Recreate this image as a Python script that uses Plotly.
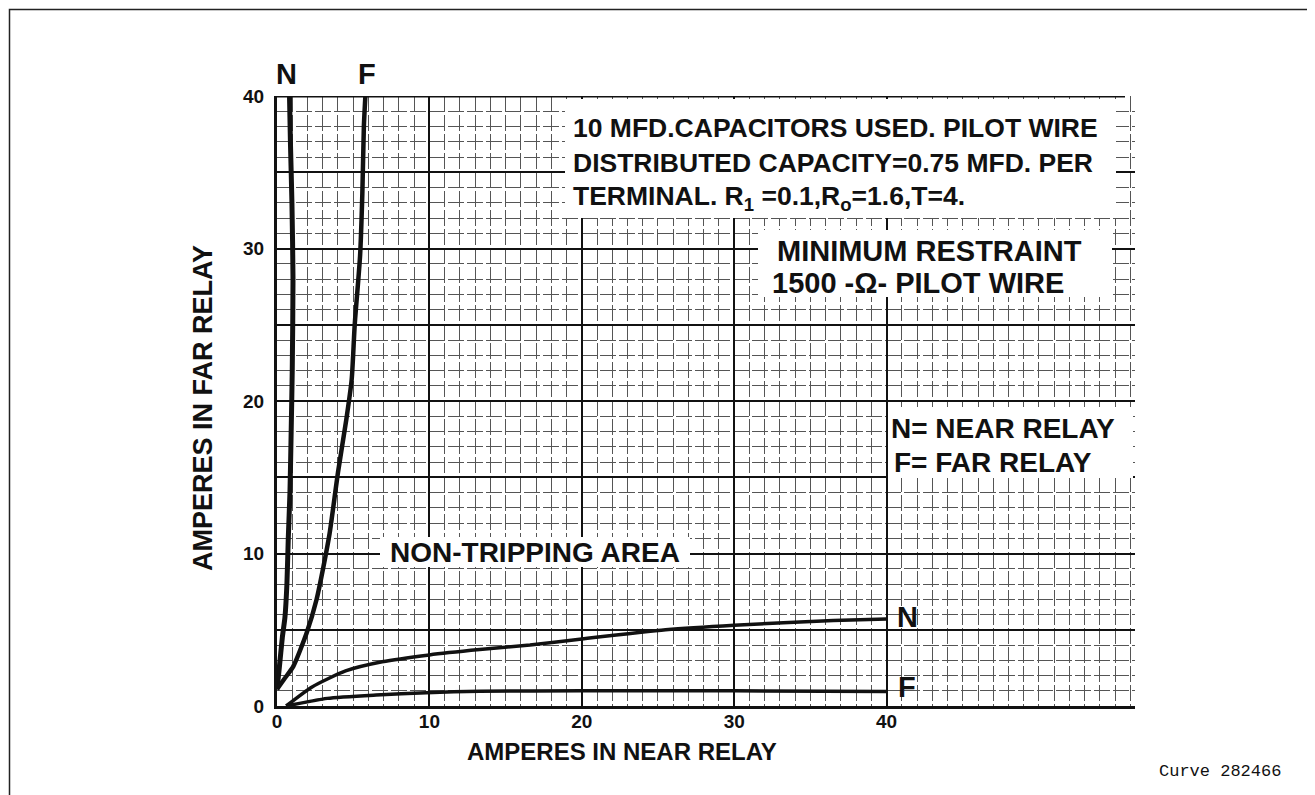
import plotly.graph_objects as go

# ---------------- data ----------------
near_steep_x = [0.0, 0.15, 0.35, 0.52, 0.65, 0.74, 0.85, 0.93, 1.0, 1.05, 0.98, 0.88, 0.82]
near_steep_y = [1.1, 2.5, 4.5, 5.8, 8.0, 11.0, 14.0, 18.0, 22.0, 28.0, 33.0, 37.0, 40.0]

far_steep_x = [0.0, 0.5, 1.07, 1.95, 2.6, 3.04, 3.45, 4.0, 4.55, 4.9, 5.1, 5.45, 5.6, 5.7, 5.8]
far_steep_y = [1.1, 1.8, 2.6, 4.8, 7.0, 9.1, 11.3, 15.3, 18.8, 21.4, 25.0, 29.5, 33.6, 38.0, 40.0]

near_flat_x = [0.6, 2.3, 4.5, 6.9, 10.0, 13.3, 16.6, 20.0, 25.5, 30.0, 36.5, 40.0]
near_flat_y = [0.0, 1.25, 2.3, 2.9, 3.35, 3.7, 4.0, 4.4, 5.0, 5.3, 5.6, 5.7]

far_flat_x = [0.6, 3.3, 6.5, 9.8, 13.3, 20.0, 30.0, 40.0]
far_flat_y = [0.0, 0.5, 0.72, 0.87, 0.97, 1.0, 1.0, 0.95]

x_tick_vals = [0, 10, 20, 30, 40]
x_tick_text = ["0", "10", "20", "30", "40"]
y_tick_vals = [0, 10, 20, 30, 40]
y_tick_text = ["0", "10", "20", "30", "40"]

x_title = "AMPERES IN NEAR RELAY"
y_title = "AMPERES IN FAR RELAY"
note_lines = ["10 MFD.CAPACITORS USED. PILOT WIRE",
              "DISTRIBUTED CAPACITY=0.75 MFD. PER",
              "TERMINAL. R<sub>1</sub> =0.1,R<sub>o</sub>=1.6,T=4."]
restraint_lines = ["MINIMUM RESTRAINT", "1500 -Ω- PILOT WIRE"]
legend_lines = ["N= NEAR RELAY", "F= FAR RELAY"]
area_label = "NON-TRIPPING AREA"
curve_id = "Curve 282466"

# ---------------- geometry (page pixels; page body has an 8px margin) ----------------
OFF = 8
W, H = 1315 - OFF, 795 - OFF
PL, PR, PT, PB = 277, 1135, 96, 706          # plot area edges in page pixels
L, T = PL - OFF, PT - OFF
R, B = W - (PR - OFF), H - (PB - OFF)
XMAX, YMAX = 56.3, 40.0
pw, ph = PR - PL, PB - PT


def dx(px):
    return (px - PL) / pw * XMAX


def dy(py):
    return (PB - py) / ph * YMAX


def paper_x(px):
    return (px - PL) / pw


def paper_y(py):
    return (PB - py) / ph


FONT = "Liberation Sans"
INK = "#111111"

fig = go.Figure()


def curve(xs, ys, width):
    return go.Scatter(x=xs, y=ys, mode="lines",
                      line=dict(color=INK, width=width, shape="spline", smoothing=0.6),
                      hoverinfo="skip", showlegend=False)


fig.add_trace(curve(near_steep_x, near_steep_y, 5))
fig.add_trace(curve(far_steep_x, far_steep_y, 4.5))
fig.add_trace(curve(near_flat_x, near_flat_y, 3.5))
fig.add_trace(curve(far_flat_x, far_flat_y, 3.5))
# overlay axis carrying the heavier 5-unit horizontal rules
fig.add_trace(go.Scatter(x=[0], y=[0], yaxis="y2", mode="markers", marker=dict(opacity=0),
                         hoverinfo="skip", showlegend=False))

tick_font = dict(family=FONT, size=19, color=INK, weight="bold")
minor_grid = dict(dtick=1, showgrid=True, gridcolor="#555555", gridwidth=1, griddash="16px,3px")

fig.update_layout(
    width=W, height=H,
    margin=dict(l=L, r=R, t=T, b=B, pad=0),
    paper_bgcolor="white", plot_bgcolor="white",
    xaxis=dict(range=[0, XMAX], tickvals=x_tick_vals, ticktext=x_tick_text,
               showgrid=True, gridcolor=INK, gridwidth=2, minor=minor_grid,
               showline=True, linecolor=INK, linewidth=3,
               ticks="", tickfont=tick_font, zeroline=False, ticklabelstandoff=-4),
    yaxis=dict(range=[0, YMAX], tickvals=y_tick_vals, ticktext=y_tick_text,
               showgrid=True, gridcolor=INK, gridwidth=2, minor=minor_grid,
               showline=True, linecolor=INK, linewidth=3,
               ticks="", tickfont=tick_font, zeroline=False, ticklabelstandoff=6),
    yaxis2=dict(range=[0, YMAX], overlaying="y", dtick=5, showgrid=True, gridcolor=INK,
                gridwidth=2, showticklabels=False, zeroline=False, showline=False),
    showlegend=False,
)

shapes = []
# top border of the grid
shapes.append(dict(type="line", xref="x", yref="y", x0=0, x1=dx(1125), y0=YMAX, y1=YMAX,
                   line=dict(color=INK, width=3), layer="above"))
# white label boxes covering the grid
for (x0, x1, y0, y1) in [(565, 1116, 99, 218), (758, 1112, 230, 297),
                         (888, 1133, 407, 478), (380, 690, 537, 567)]:
    shapes.append(dict(type="rect", xref="x", yref="y", x0=dx(x0), x1=dx(x1), y0=dy(y1), y1=dy(y0),
                       fillcolor="white", line=dict(width=0), layer="between"))
# outer page frame (left and top edges visible, as far into the page corner as the canvas allows)
shapes.append(dict(type="rect", xref="paper", yref="paper", x0=paper_x(OFF + 1.5), x1=paper_x(1340),
                   y0=paper_y(820), y1=paper_y(OFF + 1.5), line=dict(color="#222222", width=1.5),
                   fillcolor="rgba(0,0,0,0)", layer="above"))
fig.update_layout(shapes=shapes)

ann = []


def font(size, family=FONT, bold=True):
    d = dict(family=family, size=size, color=INK)
    if bold:
        d["weight"] = "bold"
    return d


def add_text(text, px, py, fnt, xanchor="left", angle=0):
    ann.append(dict(text=text, x=paper_x(px), y=paper_y(py), xref="paper", yref="paper",
                    xanchor=xanchor, yanchor="middle", showarrow=False, font=fnt, textangle=angle))


for i, line in enumerate(note_lines):
    add_text(line, 571, 128 + 35 * i, font(26.5))
for i, line in enumerate(restraint_lines):
    add_text(line, 775 if i == 0 else 770, 251 + 32 * i, font(29))
for i, line in enumerate(legend_lines):
    add_text(line, 889 if i == 0 else 892, 428 + 34 * i, font(28))
add_text(area_label, 388, 552, font(28))

add_text("N", 286, 74, font(29), xanchor="center")
add_text("F", 367, 74, font(29), xanchor="center")
add_text("N", 907, 617, font(29), xanchor="center")
add_text("F", 907, 687, font(29), xanchor="center")

add_text(x_title, 622, 751, font(24), xanchor="center")
add_text(y_title, 203, 408, font(27), xanchor="center", angle=-90)

add_text(curve_id, 1220, 771, font(17, "Liberation Mono", bold=False), xanchor="center")

fig.update_layout(annotations=ann)
fig.write_html("out.html")
